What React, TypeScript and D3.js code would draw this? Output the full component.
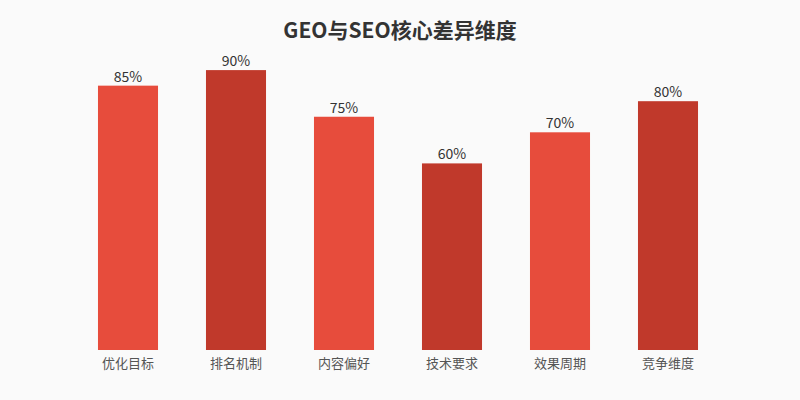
import React, { useEffect, useRef } from 'react';
import * as d3 from 'd3';

const categories = ['优化目标', '排名机制', '内容偏好', '技术要求', '效果周期', '竞争维度'];
const values = [85, 90, 75, 60, 70, 80];
const barColors = ['#e74c3c', '#c0392b'];
const title = 'GEO与SEO核心差异维度';

const WIDTH = 800;
const HEIGHT = 400;
const FONT = '"Noto Sans CJK SC", "Noto Sans", sans-serif';

const App: React.FC = () => {
  const svgRef = useRef<SVGSVGElement>(null);

  useEffect(() => {
    if (!svgRef.current) return;
    const svg = d3.select(svgRef.current);
    svg.selectAll('*').remove();

    svg.append('rect')
      .attr('width', WIDTH)
      .attr('height', HEIGHT)
      .attr('fill', '#fafafa');

    // band layout: 108px steps, 60px bars
    const x = d3.scaleBand<string>()
      .domain(categories)
      .range([74, 722])
      .paddingInner(0.444)
      .paddingOuter(0.222);

    const y = d3.scaleLinear().domain([0, 100]).range([350, 39]);

    const data = categories.map((c, i) => ({ name: c, value: values[i], idx: i }));

    svg.append('text')
      .attr('x', WIDTH / 2)
      .attr('y', 38)
      .attr('text-anchor', 'middle')
      .style('font-family', FONT)
      .style('font-size', '21px')
      .style('font-weight', 'bold')
      .style('fill', '#333')
      .text(title);

    svg.selectAll('.bar')
      .data(data)
      .enter()
      .append('rect')
      .attr('x', d => x(d.name)!)
      .attr('y', d => y(d.value))
      .attr('width', x.bandwidth())
      .attr('height', d => y(0) - y(d.value))
      .attr('fill', d => barColors[d.idx % 2]);

    svg.selectAll('.value')
      .data(data)
      .enter()
      .append('text')
      .attr('x', d => x(d.name)! + x.bandwidth() / 2)
      .attr('y', d => y(d.value) - 4)
      .attr('text-anchor', 'middle')
      .style('font-family', FONT)
      .style('font-size', '14px')
      .style('fill', '#333')
      .text(d => `${d.value}%`);

    svg.selectAll('.cat')
      .data(data)
      .enter()
      .append('text')
      .attr('x', d => x(d.name)! + x.bandwidth() / 2)
      .attr('y', 368)
      .attr('text-anchor', 'middle')
      .style('font-family', FONT)
      .style('font-size', '13px')
      .style('fill', '#555')
      .text(d => d.name);
  }, []);

  return (
    <div style={{ position: 'fixed', left: 0, top: 0, width: WIDTH, height: HEIGHT }}>
      <svg ref={svgRef} width={WIDTH} height={HEIGHT} style={{ display: 'block' }} />
    </div>
  );
};

export default App;
